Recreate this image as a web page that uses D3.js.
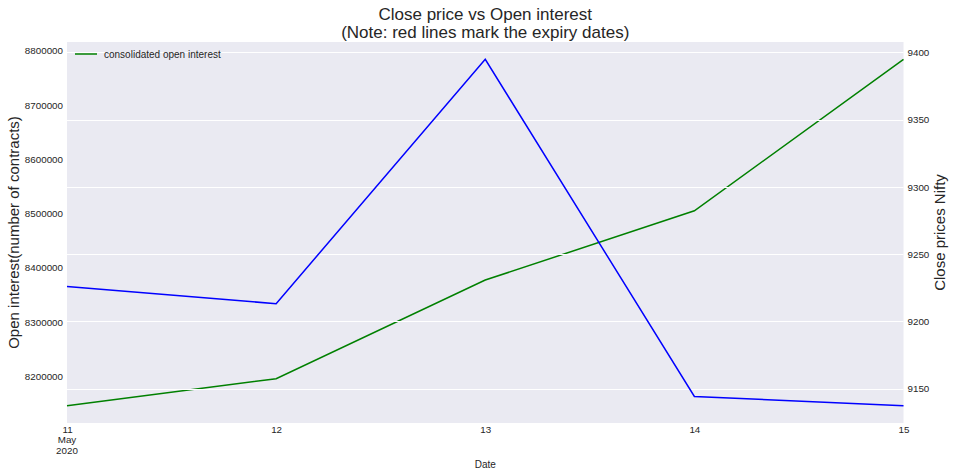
<!DOCTYPE html>
<html>
<head>
<meta charset="utf-8">
<script src="https://cdn.jsdelivr.net/npm/d3@7"></script>
<style>
  body { margin: 0; background: #fff; }
  svg text { font-family: "Liberation Sans", Arial, sans-serif; fill: #262626; }
</style>
</head>
<body>
<div id="chart"></div>
<script>
"use strict"

// ---------------- data ----------------
const dates = ["2020-05-11", "2020-05-12", "2020-05-13", "2020-05-14", "2020-05-15"];
const openInterest = [8146000, 8195700, 8377500, 8505100, 8784300];
const closePrice = [9225.9, 9213.2, 9394.8, 9144.3, 9137.4];
const leftTicks = [8200000, 8300000, 8400000, 8500000, 8600000, 8700000, 8800000];
const rightTicks = [9150, 9200, 9250, 9300, 9350, 9400];

const W = 955, H = 476;
const plot = { left: 67, right: 903.5, top: 42, bottom: 423 };

const parse = d3.timeParse("%Y-%m-%d");
const xDates = dates.map(parse);

// matplotlib style 5% margins on y
const padded = (vals) => {
    const lo = d3.min(vals), hi = d3.max(vals), m = (hi - lo) * 0.05;
    return [lo - m, hi + m];
};

const x = d3.scaleTime().domain(d3.extent(xDates)).range([plot.left, plot.right]);
const yL = d3.scaleLinear().domain(padded(openInterest)).range([plot.bottom, plot.top]);
const yR = d3.scaleLinear().domain(padded(closePrice)).range([plot.bottom, plot.top]);

const svg = d3.select("#chart").append("svg")
    .attr("width", W)
    .attr("height", H);

// background
svg.append("rect")
    .attr("x", plot.left).attr("y", plot.top)
    .attr("width", plot.right - plot.left)
    .attr("height", plot.bottom - plot.top)
    .attr("fill", "#EAEAF2");

// green line (first axes, below the twin grid)
svg.append("path")
    .datum(openInterest)
    .attr("fill", "none")
    .attr("stroke", "green")
    .attr("stroke-width", 1.5)
    .attr("d", d3.line().x((d, i) => x(xDates[i])).y(d => yL(d)));

// gridlines from the right axis
svg.append("g")
    .selectAll("line")
    .data(rightTicks)
    .join("line")
    .attr("x1", plot.left).attr("x2", plot.right)
    .attr("y1", d => Math.round(yR(d)) + 0.5).attr("y2", d => Math.round(yR(d)) + 0.5)
    .attr("stroke", "#fff")
    .attr("stroke-width", 1);

// blue line (twin axes)
svg.append("path")
    .datum(closePrice)
    .attr("fill", "none")
    .attr("stroke", "blue")
    .attr("stroke-width", 1.5)
    .attr("d", d3.line().x((d, i) => x(xDates[i])).y(d => yR(d)));

// ---------------- axes ----------------
const tickFont = "9.8px";

const leftAxis = svg.append("g")
    .attr("transform", `translate(${plot.left},0)`)
    .call(d3.axisLeft(yL).tickValues(leftTicks).tickSize(0).tickPadding(4).tickFormat(d3.format("d")));
leftAxis.select(".domain").remove();
leftAxis.selectAll("text").style("font-size", tickFont);

const rightAxis = svg.append("g")
    .attr("transform", `translate(${plot.right},0)`)
    .call(d3.axisRight(yR).tickValues(rightTicks).tickSize(0).tickPadding(4).tickFormat(d3.format("d")));
rightAxis.select(".domain").remove();
rightAxis.selectAll("text").style("font-size", tickFont);

const bottomAxis = svg.append("g")
    .attr("transform", `translate(0,${plot.bottom})`)
    .call(d3.axisBottom(x).tickValues(xDates).tickSize(0).tickPadding(3).tickFormat(d3.timeFormat("%d")));
bottomAxis.select(".domain").remove();
bottomAxis.selectAll("text").style("font-size", tickFont);

// "May / 2020" under the first tick
bottomAxis.append("text")
    .attr("x", x(xDates[0])).attr("y", 13.5)
    .attr("dy", "0.71em")
    .attr("text-anchor", "middle")
    .style("font-size", tickFont)
    .text("May");
bottomAxis.append("text")
    .attr("x", x(xDates[0])).attr("y", 24)
    .attr("dy", "0.71em")
    .attr("text-anchor", "middle")
    .style("font-size", tickFont)
    .text("2020");

// axis labels
svg.append("text")
    .attr("x", (plot.left + plot.right) / 2).attr("y", 468)
    .attr("text-anchor", "middle")
    .style("font-size", "10px")
    .text("Date");

svg.append("text")
    .attr("transform", `translate(19,${(plot.top + plot.bottom) / 2}) rotate(-90)`)
    .attr("text-anchor", "middle")
    .style("font-size", "15px")
    .text("Open interest(number of contracts)");

svg.append("text")
    .attr("transform", `translate(945,${(plot.top + plot.bottom) / 2}) rotate(-90)`)
    .attr("text-anchor", "middle")
    .style("font-size", "15px")
    .text("Close prices Nifty");

// title
svg.append("text")
    .attr("x", (plot.left + plot.right) / 2).attr("y", 20)
    .attr("text-anchor", "middle")
    .style("font-size", "17px")
    .text("Close price vs Open interest");
svg.append("text")
    .attr("x", (plot.left + plot.right) / 2).attr("y", 38)
    .attr("text-anchor", "middle")
    .style("font-size", "17px")
    .text("(Note: red lines mark the expiry dates)");

// legend
const legend = svg.append("g").attr("transform", `translate(${plot.left + 8},54)`);
legend.append("line")
    .attr("x1", 0).attr("x2", 22)
    .attr("stroke", "green").attr("stroke-width", 1.5);
legend.append("text")
    .attr("x", 29).attr("dy", "0.35em")
    .style("font-size", "10px")
    .text("consolidated open interest");
</script>
</body>
</html>
